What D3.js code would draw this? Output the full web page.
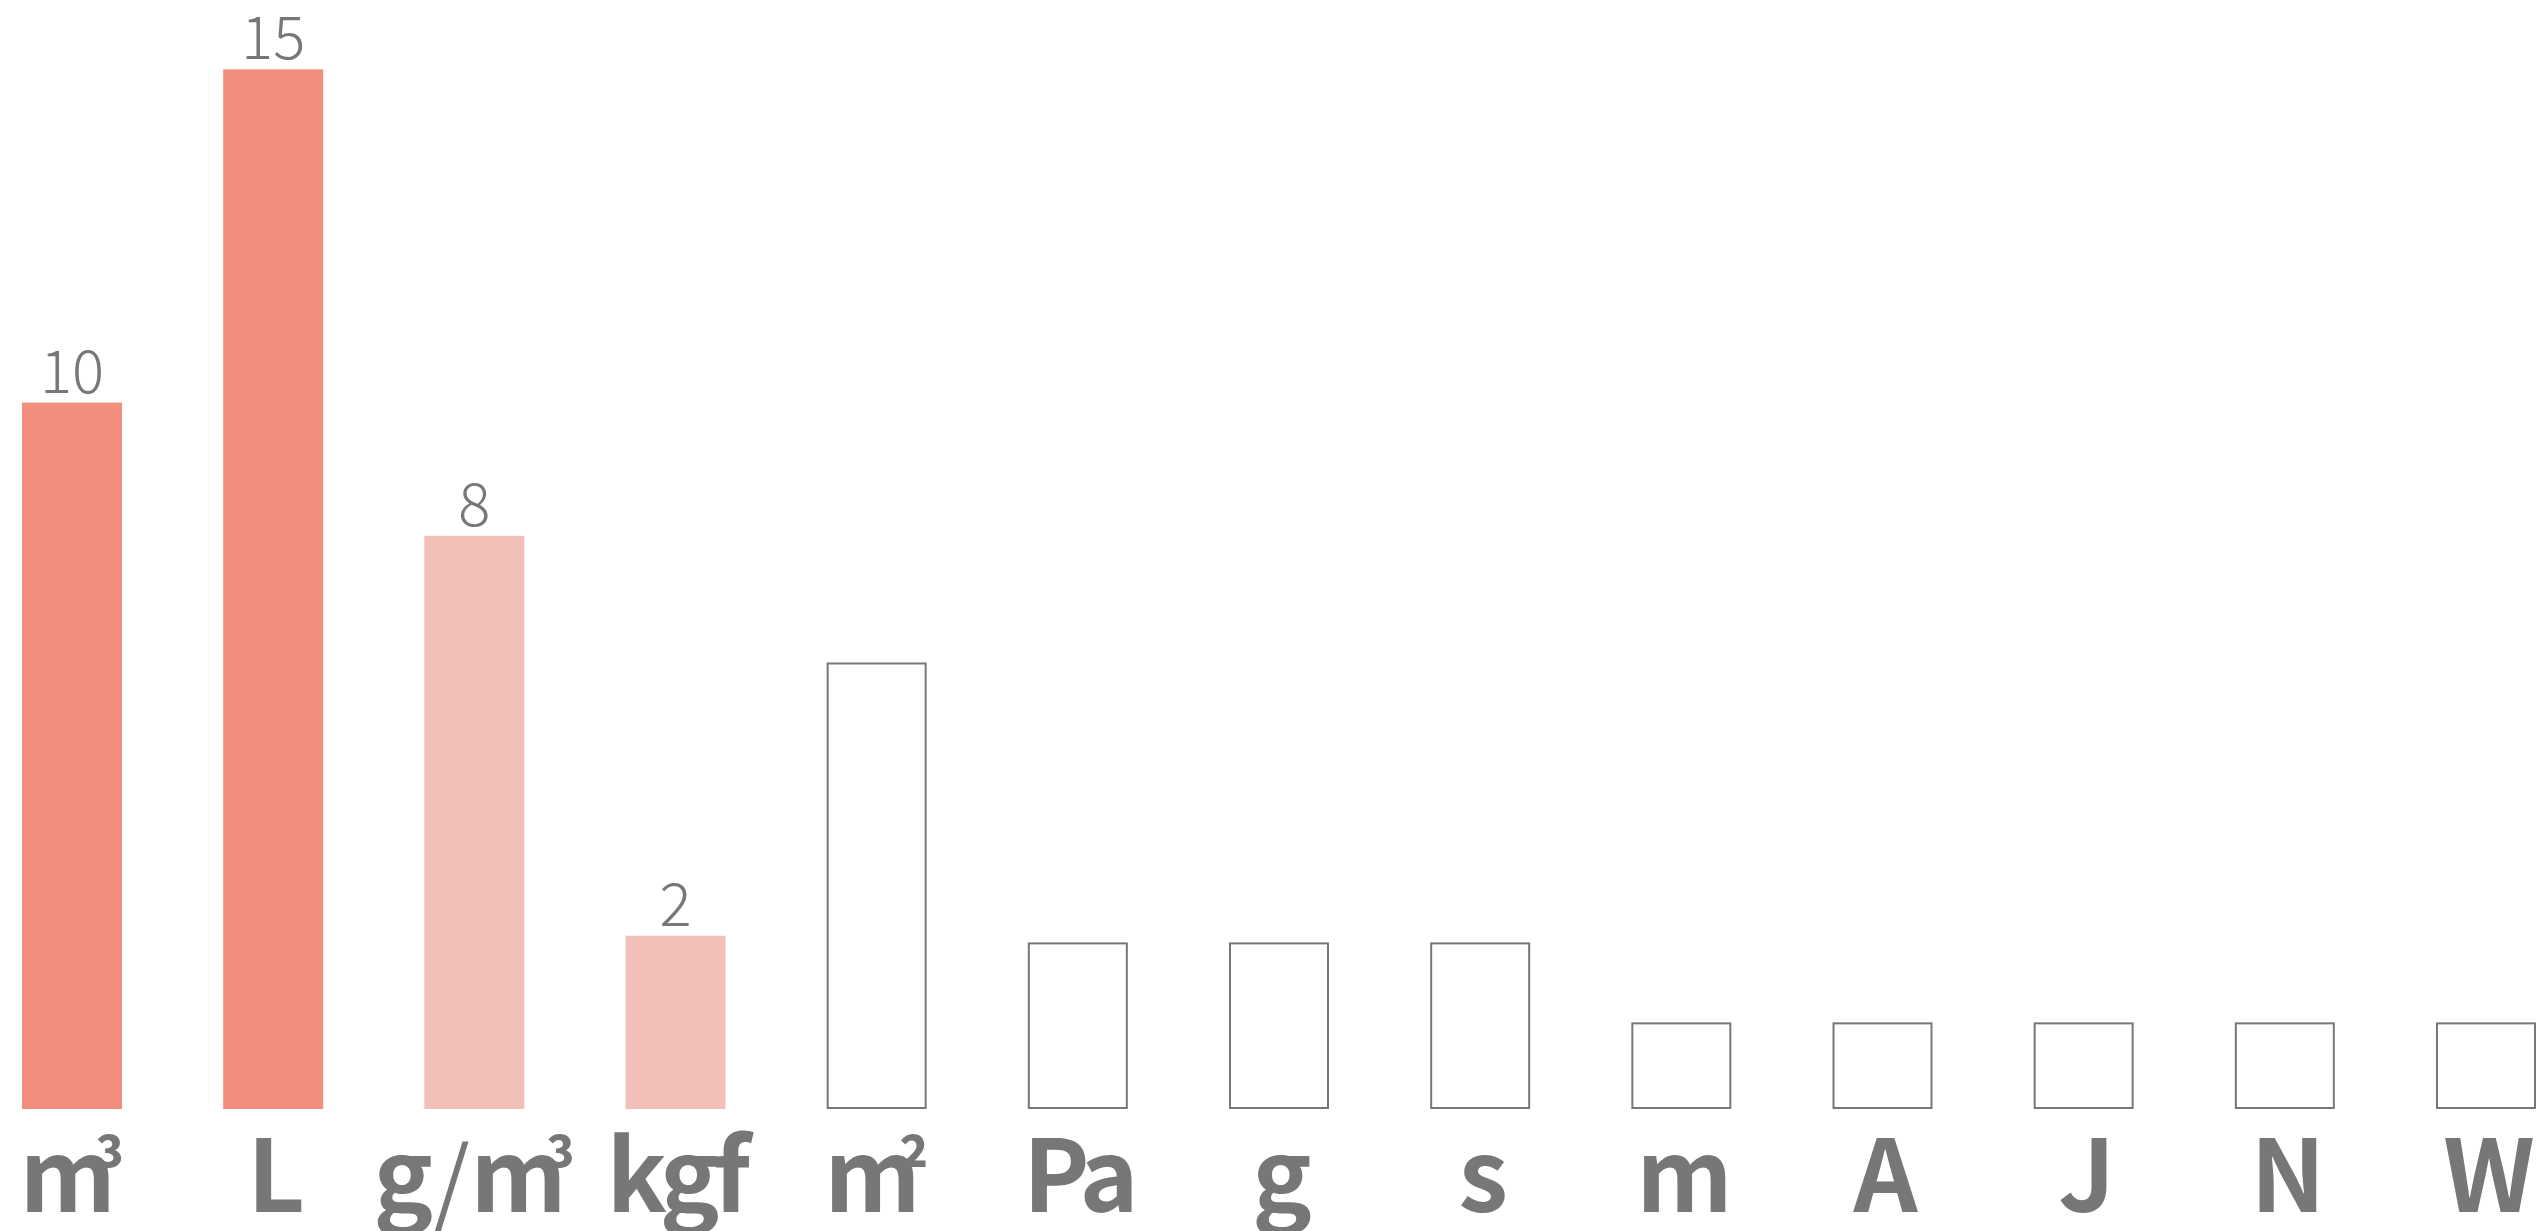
<!DOCTYPE html>
<html>
<head>
<meta charset="utf-8">
<script src="https://cdn.jsdelivr.net/npm/d3@7"></script>
<style>
  body { margin: 0; background: #fff; }
  svg { display: block; }
</style>
</head>
<body>
<script>
// units and their sizes
var categories = ["m³", "L", "g/m³", "kgf", "m²", "Pa", "g", "s", "m", "A", "J", "N", "W"];
var values = [10, 15, 8, 2, 6.1, 1.9, 1.9, 1.9, 0.7, 0.7, 0.7, 0.7, 0.7];
// 1 = strong, 2 = light, 3 = outline only
var tiers = [1, 1, 2, 2, 3, 3, 3, 3, 3, 3, 3, 3, 3];

var width = 2536;
var height = 1231;
var margin = ({ top: 76, right: 0, bottom: 122, left: 22 });
var grey = "#777";

var data = categories.map((c, i) => ({ key: c, value: values[i], tier: tiers[i] }));

var svg = d3.select("body").append("svg")
    .attr("width", width)
    .attr("height", height);

var x = d3.scaleBand()
    .domain(categories)
    .range([margin.left, width - margin.right])
    .paddingInner(0.503)
    .paddingOuter(0);

var y = d3.scaleLinear()
    .domain([-0.6, 14.9])
    .range([height - margin.bottom, margin.top]);

var fill = d3.scaleOrdinal()
    .domain([1, 2, 3])
    .range(["#f18e7e", "#f2c0b9", "#fff"]);

// bars
svg.append("g")
    .selectAll("rect")
    .data(data)
    .join("rect")
    .attr("x", d => d.tier == 3 ? x(d.key) + 1 : x(d.key))
    .attr("y", d => d.tier == 3 ? y(d.value) + 1 : y(d.value))
    .attr("width", d => d.tier == 3 ? x.bandwidth() - 2 : x.bandwidth())
    .attr("height", d => d.tier == 3 ? y(-0.6) - y(d.value) - 2 : y(-0.6) - y(d.value))
    .attr("fill", d => fill(d.tier))
    .attr("stroke", d => d.tier == 3 ? grey : "none")
    .attr("stroke-width", 2);

// value labels above the coloured bars
svg.append("g")
    .selectAll("text")
    .data(data.filter(d => d.tier < 3))
    .join("text")
    .attr("x", d => x(d.key) + x.bandwidth() / 2)
    .attr("y", d => y(d.value) - 10)
    .attr("text-anchor", "middle")
    .attr("fill", grey)
    .style("font-family", "'Noto Sans CJK JP', 'Roboto', sans-serif")
    .style("font-weight", 300)
    .style("font-size", "60px")
    .text(d => d.value);

// unit names under the bars
var labels = svg.append("g")
    .selectAll("text")
    .data(data)
    .join("text")
    .attr("x", d => x(d.key) + x.bandwidth() / 2)
    .attr("y", 1212)
    .attr("text-anchor", "middle")
    .attr("fill", grey)
    .style("font-family", "'Noto Sans CJK JP', 'Liberation Sans Narrow', sans-serif")
    .style("font-weight", 700)
    .style("font-size", "100px")
    .style("letter-spacing", "-6px");

labels.each(function (d) {
    var t = d3.select(this);
    var run = "";
    var parts = [];
    for (var ch of d.key) {
        if (ch == "/" || ch == "²" || ch == "³") {
            if (run) parts.push({ k: "n", s: run });
            run = "";
            parts.push({ k: ch == "/" ? "slash" : "sup", s: ch });
        } else run += ch;
    }
    if (run) parts.push({ k: "n", s: run });

    var shift = 0;
    parts.forEach(p => {
        var sp = t.append("tspan").text(p.s);
        if (p.k == "sup") {
            sp.attr("dx", -16).attr("dy", -14 - shift)
                .style("font-size", "72px")
                .style("letter-spacing", "0px");
            shift = -14;
        } else if (p.k == "slash") {
            sp.attr("dx", 4).attr("dy", 14 - shift)
                .style("font-family", "'DejaVu Sans', sans-serif")
                .style("font-weight", 200)
                .style("font-size", "116px")
                .style("letter-spacing", "0px");
            shift = 14;
        } else {
            sp.attr("dy", -shift);
            shift = 0;
        }
    });
});
</script>
</body>
</html>
